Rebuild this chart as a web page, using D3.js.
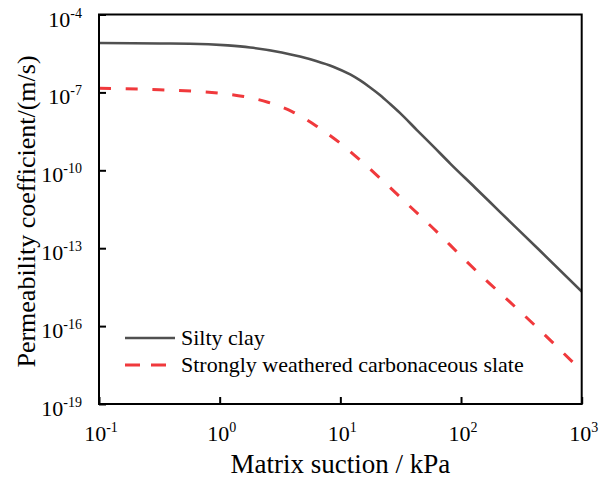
<!DOCTYPE html>
<html><head><meta charset="utf-8">
<script src="https://cdn.jsdelivr.net/npm/d3@7"></script>
<style>body{margin:0;background:#fff}svg{display:block}
svg text{font-family:"Liberation Serif","Times New Roman",Times,serif;fill:#000}</style>
</head><body>
<svg id="c" width="608" height="479"></svg>
<script>
// Matrix suction (kPa) and log10 of permeability coefficient (m/s)
const siltySuction = [0.1, 0.32, 0.568, 1.17, 1.79, 3.27, 4.63, 6.3, 8.72, 12.06, 14.6, 17.66, 21.4, 25.9, 31.3, 43.1, 59.2, 81.4, 131, 211, 454, 1000];
const siltyClayLog = [-5.10, -5.117, -5.124, -5.19, -5.27, -5.46, -5.62, -5.79, -6.01, -6.31, -6.54, -6.81, -7.11, -7.45, -7.80, -8.45, -9.09, -9.74, -10.67, -11.61, -13.11, -14.67];
const slateSuction = [0.1, 0.316, 1, 1.585, 2.51, 3.98, 6.31, 10, 15.85, 25.1, 39.8, 63.1, 100, 158.5, 251, 398, 1000];
const slateLog = [-6.84, -6.90, -7.03, -7.16, -7.38, -7.74, -8.29, -8.96, -9.76, -10.61, -11.49, -12.37, -13.30, -14.20, -15.05, -15.92, -17.73];
const xTickExp = [-1, 0, 1, 2, 3];
const yTickExp = [-4, -7, -10, -13, -16, -19];
const seriesNames = ["Silty clay", "Strongly weathered carbonaceous slate"];

const svg = d3.select("#c");
const L = 99, R = 581.7, T = 14.5, B = 404;
const x = d3.scaleLog().domain([0.1, 1000]).range([L, R]);
const y = d3.scaleLog().domain([1e-19, 1e-4]).range([B, T]);

const line = d3.line().x(d => x(d[0])).y(d => y(d[1])).curve(d3.curveMonotoneX);
const silty = siltySuction.map((s, i) => [s, Math.pow(10, siltyClayLog[i])]);
const slate = slateSuction.map((s, i) => [s, Math.pow(10, slateLog[i])]);

svg.append("defs").append("clipPath").attr("id","clip").append("rect")
  .attr("x", L).attr("y", T).attr("width", R-L).attr("height", B-T);

const g = svg.append("g").attr("clip-path","url(#clip)");
g.append("path").datum(silty).attr("d", line).attr("fill","none")
  .attr("stroke","#505050").attr("stroke-width",2.6);
g.append("path").datum(slate).attr("d", line).attr("fill","none")
  .attr("stroke","#f0393c").attr("stroke-width",3).attr("stroke-dasharray","12,14.7");

// axes
const xAxis = d3.axisBottom(x).tickValues(xTickExp.map(e => Math.pow(10, e)))
  .tickSizeInner(-7).tickSizeOuter(0).tickFormat("");
const yAxis = d3.axisLeft(y).tickValues(yTickExp.map(e => Math.pow(10, e)))
  .tickSizeInner(-7).tickSizeOuter(0).tickFormat("");
const ax = svg.append("g").attr("transform", `translate(0,${B})`).call(xAxis);
const ay = svg.append("g").attr("transform", `translate(${L},0)`).call(yAxis);
[ax, ay].forEach(a => {
  a.select(".domain").remove();
  a.selectAll(".tick line").attr("stroke","#000").attr("stroke-width",2);
});
// frame
svg.append("rect").attr("x", L).attr("y", T).attr("width", R-L).attr("height", B-T)
  .attr("fill","none").attr("stroke","#000").attr("stroke-width",2);

// tick labels
xTickExp.forEach(e => {
  const t = svg.append("text").attr("x", x(Math.pow(10,e)) + 2).attr("y", 441)
    .attr("text-anchor","middle").attr("font-size", 22);
  t.append("tspan").text("10");
  t.append("tspan").attr("dy", -9).attr("font-size", 14).text(String(e));
});
yTickExp.forEach(e => {
  const t = svg.append("text").attr("x", 82).attr("y", y(Math.pow(10,e)) + 12)
    .attr("text-anchor","end").attr("font-size", 22);
  t.append("tspan").text("10");
  t.append("tspan").attr("dy", -9).attr("font-size", 14).text(String(e));
});

// axis titles
svg.append("text").attr("x", (L+R)/2).attr("y", 473).attr("text-anchor","middle")
  .attr("font-size", 27).text("Matrix suction / kPa");
svg.append("text").attr("transform", `translate(35,211.5) rotate(-90)`).attr("text-anchor","middle")
  .attr("font-size", 26).text("Permeability coefficient/(m/s)");

// legend
const lg = svg.append("g");
lg.append("line").attr("x1",125).attr("x2",175).attr("y1",338).attr("y2",338)
  .attr("stroke","#505050").attr("stroke-width",2.6);
lg.append("line").attr("x1",125).attr("x2",175).attr("y1",365).attr("y2",365)
  .attr("stroke","#f0393c").attr("stroke-width",3).attr("stroke-dasharray","15,11");
lg.append("text").attr("x",181).attr("y",345).attr("font-size",22).text(seriesNames[0]);
lg.append("text").attr("x",181).attr("y",372).attr("font-size",22).text(seriesNames[1]);
</script>
</body></html>
